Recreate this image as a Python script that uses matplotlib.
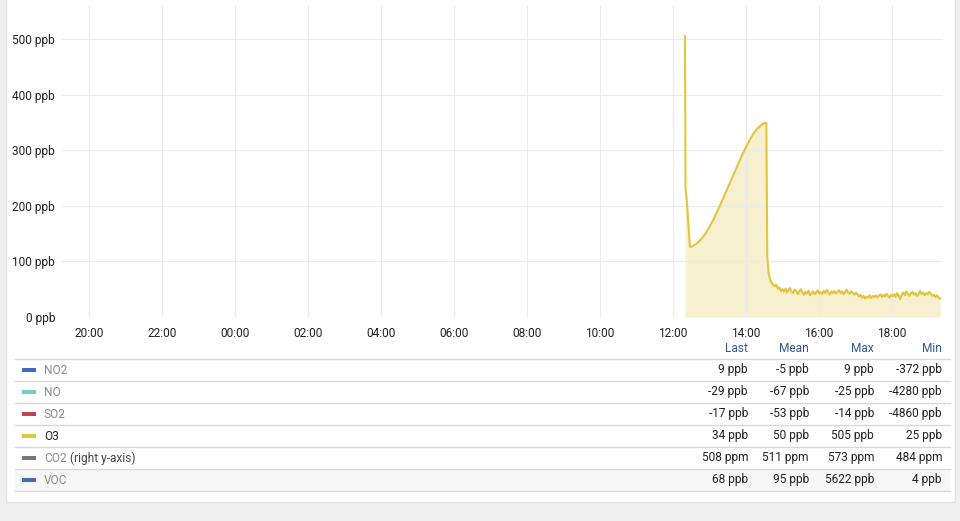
import numpy as np
import matplotlib
matplotlib.use("Agg")
import matplotlib.pyplot as plt
from matplotlib.patches import Rectangle

plt.rcParams['font.family'] = ['Roboto', 'DejaVu Sans']

W, H = 960, 521

# O3 series, hours counted from the start of the first day (24 = midnight)
o3_hours = [36.33, 36.345, 36.375, 36.466, 36.52, 36.6, 36.7, 36.8, 36.9,
            37.0, 37.1, 37.2, 37.3, 37.4, 37.5, 37.6, 37.7, 37.8, 37.9,
            38.0, 38.1, 38.2, 38.3, 38.4, 38.48, 38.56,
            38.585, 38.62, 38.66, 38.72]
o3_ppb = [505, 230, 214, 126, 127, 130, 135, 142, 151,
          162, 174, 188, 202, 217, 232, 247, 262, 277, 292,
          305, 318, 329, 338, 344, 348, 349,
          110, 80, 68, 60]

# noisy tail after 14:47 up to the last sample
tail_start, tail_end = 38.79, 43.32
tail_ppb = [55, 58, 51, 53, 47, 50,
            46, 51, 44, 48, 52, 45, 43, 49, 47, 41, 46, 50,
            44, 40, 45, 42, 47, 39, 43, 46, 41, 44, 48, 42,
            45, 41, 47, 43, 49, 44, 40, 46, 43, 47, 42, 45,
            48, 43, 46, 41, 45, 49, 44, 42, 46, 43, 40, 44,
            41, 37, 40, 35, 38, 33, 37, 35, 39, 34, 38, 36,
            39, 35, 38, 41, 36, 40, 37, 42, 38, 35, 40, 37,
            41, 36, 43, 38, 32, 40, 44, 39, 46, 41, 38, 43,
            45, 40, 43, 38, 42, 47, 41, 44, 39, 43, 41, 45,
            42, 38, 40, 36, 39, 35, 33]

x_ticks = [20, 22, 24, 26, 28, 30, 32, 34, 36, 38, 40, 42]
x_labels = ['20:00', '22:00', '00:00', '02:00', '04:00', '06:00', '08:00',
            '10:00', '12:00', '14:00', '16:00', '18:00']
y_ticks = [0, 100, 200, 300, 400, 500]

series = ['NO2', 'NO', 'SO2', 'O3', 'CO2', 'VOC']
series_colors = ['#3f6cc0', '#6fcfca', '#c4444e', '#e3c43d', '#777777', '#3f6cc0']
col_names = ['Last', 'Mean', 'Max', 'Min']
last_vals = ['9 ppb', '-29 ppb', '-17 ppb', '34 ppb', '508 ppm', '68 ppb']
mean_vals = ['-5 ppb', '-67 ppb', '-53 ppb', '50 ppb', '511 ppm', '95 ppb']
max_vals = ['9 ppb', '-25 ppb', '-14 ppb', '505 ppb', '573 ppm', '5622 ppb']
min_vals = ['-372 ppb', '-4280 ppb', '-4860 ppb', '25 ppb', '484 ppm', '4 ppb']

LINE = '#e3c43d'


def fx(px):
    return px / W


def fy(py):
    return 1 - py / H


fig = plt.figure(figsize=(W / 100, H / 100), dpi=100, facecolor='#efefef')

# white panel
fig.patches.append(Rectangle((fx(6), fy(502)), fx(949), 502 / H + 0.05,
                             transform=fig.transFigure, facecolor='white',
                             edgecolor='#e2e2e2', lw=1, zorder=0))

ax = fig.add_axes([fx(62), fy(317), fx(943) - fx(62), fy(5) - fy(317)])
ax.set_facecolor('none')
ax.set_zorder(2)

tail_hours = np.linspace(tail_start, tail_end, len(tail_ppb))
xs = np.concatenate([o3_hours, tail_hours])
ys = np.concatenate([o3_ppb, tail_ppb])
ax.fill_between(xs, 0, ys, color=LINE, alpha=0.25, lw=0)
ax.plot(xs, ys, color=LINE, lw=1.5)

ax.set_xlim(19.26, 43.40)
ax.set_ylim(0, 561)
ax.set_xticks(x_ticks)
ax.set_xticklabels(x_labels)
ax.set_yticks(y_ticks)
ax.set_yticklabels([f'{v} ppb' for v in y_ticks])
ax.tick_params(length=0, labelsize=8.6, colors='#222222')
ax.tick_params(axis='x', pad=7)
ax.tick_params(axis='y', pad=5)
ax.grid(True, color='#ebebeb', lw=0.8)
for s in ax.spines.values():
    s.set_visible(False)

# legend table
fs = 8.6
col_x = [748, 809, 874, 942]
for name, cx in zip(col_names, col_x):
    fig.text(fx(cx), fy(349), name, ha='right', va='center', fontsize=fs,
             color='#33569a')

row_tops = [359, 381, 403, 425, 447, 469]
fig.patches.append(Rectangle((fx(15), fy(491)), fx(935), 22 / H,
                             transform=fig.transFigure, facecolor='#f6f6f6',
                             lw=0, zorder=0.5))
for yy in row_tops + [491]:
    fig.add_artist(plt.Line2D([fx(15), fx(950)], [fy(yy), fy(yy)],
                              color='#d9d9d9', lw=1))

for i, name in enumerate(series):
    yc = row_tops[i] + 11
    fig.patches.append(Rectangle((fx(22), fy(yc + 2)), fx(14), 4 / H,
                                 transform=fig.transFigure,
                                 facecolor=series_colors[i], lw=0))
    name_color = '#222222' if name == 'O3' else '#8a8a8a'
    fig.text(fx(44), fy(yc), name, ha='left', va='center', fontsize=fs,
             color=name_color)
    if name == 'CO2':
        fig.text(fx(70), fy(yc), '(right y-axis)', ha='left', va='center',
                 fontsize=fs, color='#444444')
    for vals, cx in zip([last_vals, mean_vals, max_vals, min_vals], col_x):
        fig.text(fx(cx), fy(yc), vals[i], ha='right', va='center',
                 fontsize=fs, color='#222222')

fig.savefig('out.png', dpi=100, facecolor=fig.get_facecolor())
